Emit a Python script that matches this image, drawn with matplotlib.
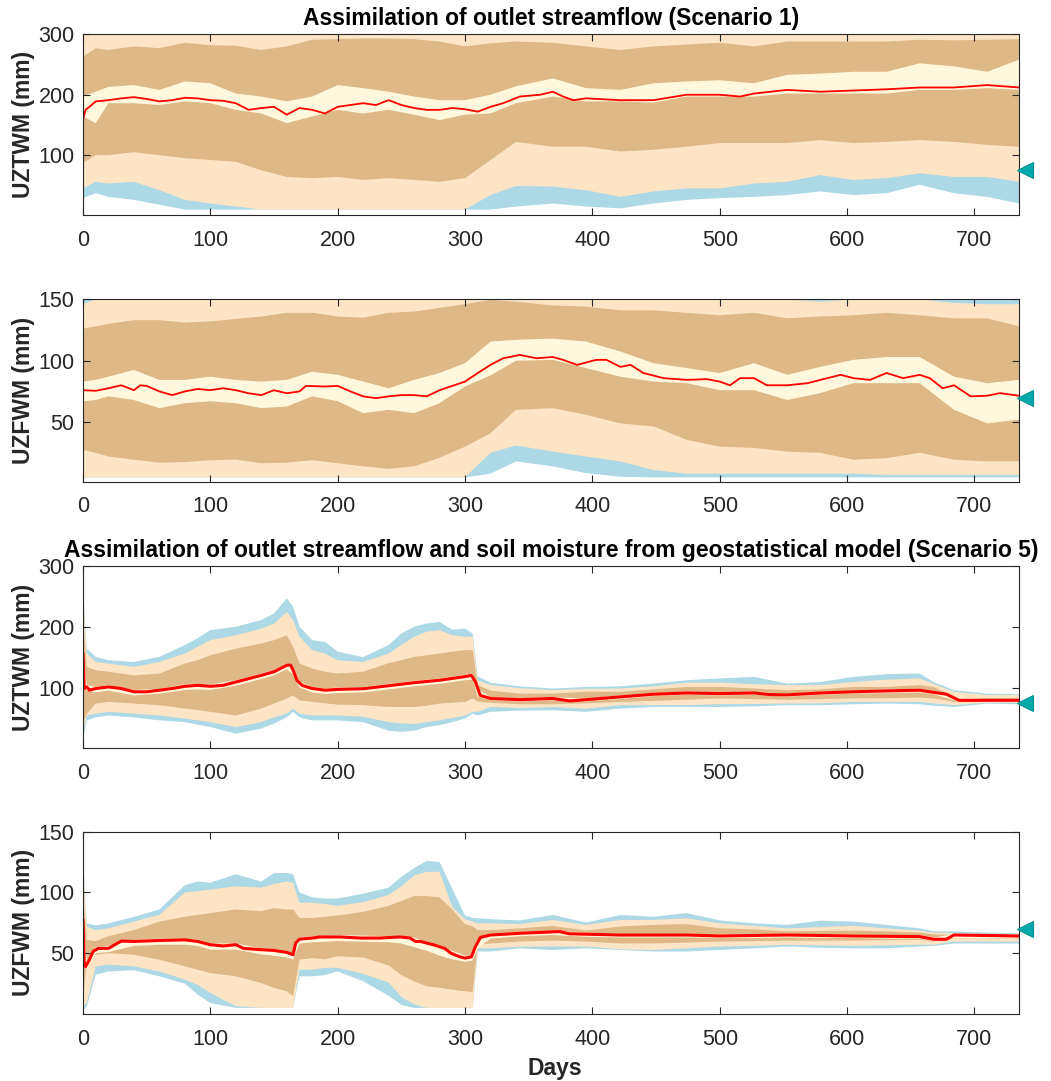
import matplotlib
matplotlib.use("Agg")
import matplotlib.pyplot as plt

plt.rcParams['font.family'] = ['Liberation Sans', 'DejaVu Sans']

# ---------------- Scenario 1 : day grid of the ensemble bands ----------------
DAYS_S1 = [0, 10, 20, 40, 60, 80, 100, 120, 140, 160, 180, 200, 220, 240, 260, 280, 300, 320, 340,
           369, 395, 422, 448, 474, 500, 527, 553, 579, 605, 631, 657, 684, 710, 735]

# Panel 1: UZTWM, Scenario 1
P1_BLUE_HI = [300, 300, 300, 300, 300, 300, 300, 300, 300, 300, 300, 300, 300, 300, 300, 300, 300,
              300, 300, 300, 300, 300, 300, 300, 300, 300, 300, 300, 300, 300, 300, 300, 300, 300]
P1_PEACH_HI = [300, 300, 300, 300, 300, 300, 300, 300, 300, 300, 300, 300, 300, 300, 300, 300, 300,
               300, 300, 300, 300, 300, 300, 300, 300, 300, 300, 300, 300, 300, 300, 300, 300, 300]
P1_TAN_HI = [263, 277, 274, 280, 277, 286, 282, 281, 274, 280, 291, 292, 293, 293, 292, 288, 280,
             285, 288, 286, 280, 274, 280, 283, 286, 280, 288, 288, 288, 288, 291, 290, 291, 292]
P1_YEL_HI = [197, 205, 213, 216, 208, 222, 219, 202, 197, 189, 197, 216, 211, 205, 197, 191, 191,
             200, 214, 227, 211, 208, 219, 222, 224, 219, 233, 235, 238, 238, 252, 247, 238, 258]
P1_YEL_LO = [164, 153, 186, 186, 183, 189, 186, 175, 169, 153, 164, 175, 169, 175, 167, 158, 167,
             169, 186, 197, 189, 189, 187, 197, 197, 197, 202, 202, 202, 202, 208, 208, 211, 208]
P1_TAN_LO = [87, 100, 100, 105, 100, 95, 92, 89, 75, 64, 62, 64, 59, 62, 59, 56, 62,
             92, 122, 114, 114, 106, 109, 114, 120, 120, 120, 125, 120, 122, 125, 122, 117, 114]
P1_PEACH_LO = [45, 56, 53, 56, 42, 26, 20, 15, 10, 10, 10, 10, 10, 10, 10, 10, 10,
               34, 49, 48, 42, 31, 40, 45, 45, 53, 56, 67, 59, 62, 70, 64, 64, 56]
P1_BLUE_LO = [29, 37, 31, 26, 18, 10, 10, 10, 10, 10, 10, 10, 10, 10, 10, 10, 10,
              10, 15, 20, 15, 12, 20, 26, 29, 31, 34, 40, 34, 37, 51, 37, 31, 20]
P1_MED_DAYS = [0, 2, 5, 10, 20, 30, 40, 50, 60, 70, 80, 90, 100, 110, 120, 130, 140, 150, 160, 170,
               180, 190, 200, 210, 220, 230, 240, 250, 260, 270, 280, 290, 300, 310, 320, 330,
               343, 359, 369, 377, 385, 395, 422, 448, 474, 500, 516, 527, 553, 579, 605, 631,
               657, 684, 710, 735]
P1_MED = [158, 175, 180, 189, 191, 194, 196, 193, 189, 191, 195, 194, 191, 190, 186, 175, 178, 180,
          167, 178, 175, 169, 180, 183, 186, 183, 191, 183, 178, 175, 175, 178, 176, 172, 180, 186,
          197, 200, 205, 197, 191, 194, 191, 191, 200, 200, 197, 202, 208, 205, 207, 209,
          212, 212, 216, 212]

# Panel 2: UZFWM, Scenario 1
P2_BLUE_HI = [150, 150, 150, 150, 150, 150, 150, 150, 150, 150, 150, 150, 150, 150, 150, 150, 150,
              150, 150, 150, 150, 150, 150, 150, 150, 150, 150, 150, 150, 150, 150, 150, 150, 150]
P2_PEACH_HI = [146, 150, 150, 150, 150, 150, 150, 150, 150, 150, 150, 150, 150, 150, 150, 150, 150,
               150, 150, 150, 150, 150, 150, 150, 150, 150, 150, 148, 150, 150, 150, 147, 146, 146]
P2_TAN_HI = [126, 128, 130, 133, 133, 131, 132, 134, 136, 139, 139, 136, 135, 139, 140, 143, 146,
             149.5, 148, 145, 144, 141, 141, 139, 137, 139, 134.5, 136, 137, 139, 137, 134.5, 134.5, 128]
P2_YEL_HI = [83, 84.4, 87, 92.5, 84.4, 84.4, 87, 84.4, 83, 84.4, 91, 88.5, 83, 77.6, 84.4, 90, 98,
             115.6, 117, 118, 115.6, 107.5, 98, 94, 90, 98, 88.5, 95, 100.7, 103, 103, 87, 81.7, 84.4]
P2_YEL_LO = [67, 68, 71, 68, 61.4, 65.4, 67, 65.4, 61.4, 62.7, 71, 67, 57.3, 60, 57.3, 65.4, 79,
             88, 100, 100.7, 94, 87, 83, 81.7, 76, 76, 68, 73.6, 81.7, 81.7, 81.7, 60, 49, 52]
P2_TAN_LO = [27.5, 25, 22, 19.4, 17, 17.5, 19, 19.5, 16.5, 17, 19, 16.5, 14, 12, 14, 21, 30,
             41, 60, 61.4, 56, 49, 46.5, 35.6, 30, 29, 26, 25, 19.4, 20.7, 25, 19.4, 18, 18]
P2_PEACH_LO = [5, 5, 5, 5, 5, 5, 5, 5, 5, 5, 5, 5, 5, 5, 5, 5, 5,
               25, 31, 26, 22, 18, 11, 8, 8, 8, 8, 8, 8, 7, 7, 7, 7, 7]
P2_BLUE_LO = [5, 5, 5, 5, 5, 5, 5, 5, 5, 5, 5, 5, 5, 5, 5, 5, 5,
              8, 18, 14, 8.5, 5.5, 5, 5, 5, 5, 5, 5, 5, 5, 5, 5, 5, 5]
P2_MED_DAYS = [0, 10, 20, 30, 40, 45, 50, 60, 70, 80, 90, 100, 110, 120, 130, 140, 150, 160, 170, 175,
               190, 200, 210, 220, 230, 240, 250, 260, 270, 280, 290, 300, 310, 320, 330, 343, 356,
               369, 377, 388, 403, 411, 422, 430, 440, 456, 474, 490, 500, 508, 516, 527, 537, 553,
               569, 579, 595, 605, 618, 631, 644, 657, 665, 675, 684, 697, 710, 720, 735]
P2_MED = [76, 75.5, 77.6, 80, 76, 80, 79.5, 75, 72, 75, 77, 76, 77.6, 76, 73.5, 72, 76, 73.5, 75, 79.5,
          79, 79.5, 75, 71, 69.5, 71, 72, 72, 71, 76, 79.5, 83, 90, 96.6, 102, 104.7, 102,
          103, 100.7, 96.6, 100.7, 100.7, 95, 96.6, 90, 85.8, 84.4, 85, 83, 80, 85.8, 85.8, 80, 80,
          81.7, 84.4, 88.5, 85.8, 84.4, 90, 85.8, 88.5, 85.8, 77.6, 80, 71, 71.5, 73.6, 71.5]

# ---------------- Scenario 5 : day grid of the ensemble bands ----------------
DAYS_S5 = [0, 3, 10, 20, 40, 60, 80, 90, 100, 120, 140, 150, 160, 165, 170, 180, 190, 200, 220, 240,
           250, 260, 270, 280, 290, 300, 306, 310, 320, 343, 369, 395, 422, 448, 474, 500, 527, 553,
           579, 605, 631, 657, 668, 684, 710, 735]

# Panel 3: UZTWM, Scenario 5
P3_BLUE_HI = [265, 164, 150.5, 145, 142, 150.5, 170, 181, 194.5, 200, 211, 222, 246.7, 233, 200, 178,
              175, 159, 150, 170, 189, 200, 205.5, 208, 195, 197, 189, 118, 108, 102, 98.4, 101, 102,
              106.6, 112, 115, 117.6, 106.6, 109, 117.6, 122, 123, 109, 95.6, 90, 89]
P3_PEACH_HI = [255, 156, 142, 139.5, 134, 142, 156, 167, 178, 186, 197, 205, 224.6, 211, 183.6, 161.5,
               156, 145, 142, 156, 170, 183.5, 192, 194.5, 186, 183.5, 183.5, 112, 104, 99, 95.6, 98,
               98.4, 102, 108, 108, 105.5, 104, 104, 109, 113, 115, 106, 93, 87.6, 87.6]
P3_TAN_HI = [210, 134, 128.6, 126, 120, 123, 139.5, 145, 153, 164, 172.5, 178, 186, 167, 139.5, 131.3,
             126, 123, 126, 140, 145, 150.5, 153, 156, 159, 161.5, 161.5, 104, 95, 90, 90, 93, 93,
             97, 101, 101, 98.4, 95.6, 97, 101, 101, 104, 101, 84.6, 82, 82]
P3_YEL_HI = [158, 104, 101, 104, 96, 98, 105, 106, 105, 112, 123, 129, 140, 132, 110, 101,
             98.5, 100, 101, 106, 108.5, 111, 113, 115, 118, 121, 123, 98, 84, 82, 84, 82, 87,
             91, 93, 92, 93, 90, 93, 95, 97, 98, 94, 85, 81, 81]
P3_YEL_LO = [100, 95, 92, 95, 87, 90, 96, 97, 96, 103, 114, 120, 130, 122, 100, 92,
             89.5, 91, 92, 97, 99.5, 102, 104, 106, 109, 112, 113, 85, 79, 77, 79, 77, 81,
             86, 88, 87, 88, 85, 88, 90, 91, 92, 89, 79, 77, 77]
P3_TAN_LO = [40, 57, 73.6, 76.4, 73.6, 71, 65.4, 63, 60, 54, 65.4, 73.6, 82, 87, 79, 76.4,
             74, 72, 71, 68, 68, 68, 70, 73.6, 75, 76.4, 82, 77, 75, 72.5, 72.5, 74, 76.4,
             78, 80, 82, 81, 80, 81, 82, 82.5, 83.5, 82, 76.4, 76.4, 76.4]
P3_PEACH_LO = [25, 54, 57, 60, 57, 54, 49, 46, 43, 35, 43, 51, 57, 65.4, 57, 54,
               54, 54, 52, 43, 41, 40, 43, 46, 50, 54, 60, 60, 68, 66, 68, 65, 71,
               71, 71, 72.5, 73, 73.6, 74, 76.4, 76.4, 76.4, 74, 71, 75, 75]
P3_BLUE_LO = [15, 46, 51, 54, 51, 46, 43, 39, 35, 24, 32.4, 40.7, 51, 60, 51, 46,
              46, 46, 43, 29, 27, 29, 35, 38, 43, 49, 57, 54, 60, 62, 62.6, 60, 65.4,
              68, 68, 68, 69, 71, 71, 72.5, 73.6, 72.5, 70, 68, 73.6, 72.5]
P3_MED_DAYS = [0, 1, 3, 5, 10, 20, 30, 40, 50, 60, 70, 80, 90, 100, 110, 120, 130, 140, 150, 155,
               160, 163, 165, 168, 172, 180, 190, 200, 220, 240, 260, 280, 300, 305, 308, 312, 320,
               343, 369, 382, 395, 422, 448, 474, 500, 527, 539, 553, 579, 605, 631, 657, 665, 678,
               688, 710, 735]
P3_MED = [156, 98.4, 101, 95.6, 98.4, 101, 98.4, 93, 93, 95.6, 98.4, 102, 103.6, 102, 103.6, 109,
          114.6, 120, 126, 131.3, 136.8, 136.8, 128.6, 112, 103.6, 98.4, 95.6, 97, 98, 103, 108, 112,
          118, 120, 110, 87, 82, 80, 82, 78, 80, 84.6, 89, 91, 90, 91, 88.5, 88, 91, 93, 94.5, 95.6,
          93, 89, 79, 79, 79]

# Panel 4: UZFWM, Scenario 5
P4_BLUE_HI = [130, 74.5, 73, 74.5, 80, 86, 106, 109, 108, 115, 109, 116, 116, 115, 100, 96,
              95, 95, 99, 104, 113, 120, 126, 125, 103, 81, 79, 78.8, 78, 77, 81.5, 75.2, 81.5,
              80, 83, 77, 74.6, 73.3, 76.8, 76, 73.3, 70.5, 68, 68, 67, 66.4]
P4_PEACH_HI = [125, 72, 69, 70.5, 76, 81.6, 100, 101, 102.5, 105, 104, 107, 109, 108, 91.5, 91.5,
               90.5, 89, 92, 98, 105, 114, 117, 117, 88, 78, 76, 74.6, 74.6, 74, 77.4, 73.3, 77.4,
               77.4, 78.8, 74.6, 72.5, 70.5, 71.5, 72.5, 70.5, 68.6, 67, 66.4, 66, 66]
P4_TAN_HI = [100, 61, 60, 64, 69, 76, 80, 81.5, 83, 86, 84.6, 87, 86, 86, 79, 79,
             80, 81, 84, 89, 93, 97, 97, 96, 86, 74, 72, 69, 69, 70.5, 72.5, 68.6, 72,
             73.3, 74, 70.5, 69.7, 68, 68.3, 68.6, 68, 67, 65.5, 65, 65, 65]
P4_YEL_HI = [76, 44, 55, 56, 61, 62, 62, 61, 58, 58, 54, 53.5, 52, 50, 63, 64,
             64.5, 65, 64.5, 64, 64.5, 63, 59, 56, 52, 48, 48, 60, 66, 67.5, 68.5, 67, 66,
             66, 66, 65.5, 65.5, 66, 65.5, 65.5, 65, 65, 63, 65.5, 65.5, 65.5]
P4_YEL_LO = [50, 38, 50, 51, 56, 57, 57, 56, 53, 53, 49, 48, 46.5, 45, 58, 59,
             59.5, 60, 59.5, 59, 58, 55, 52, 48, 45, 43, 44, 54, 62, 64, 65, 63.5, 63,
             63, 63, 62.5, 62.5, 63, 62.5, 62.5, 62, 62, 60, 62.5, 62.5, 62.5]
P4_TAN_LO = [12, 44, 48.8, 50, 48.8, 44.7, 39.2, 36.5, 33.7, 31, 25.5, 21.5, 18.7, 14.6, 44.7, 46,
             45, 47.5, 46.5, 40, 32, 26.8, 22.8, 21.5, 20, 18.7, 18, 57, 58, 59.6, 60.4, 59.6, 58,
             58, 58.8, 59.6, 60, 60.4, 60.4, 60.4, 60.7, 61, 59.6, 62.3, 62.3, 62.3]
P4_PEACH_LO = [6, 9, 39.2, 40.6, 39.2, 35, 28.3, 24, 17.3, 6.4, 5, 5, 5, 5, 36.5, 36.5,
               38, 38, 33, 26, 14, 8, 5, 5, 5, 5, 5, 54, 54, 55.5, 55.5, 55.5, 53.3,
               52.7, 54, 55.5, 56, 57, 56.5, 56, 56.5, 57, 57, 59.6, 59.6, 59.6]
P4_BLUE_LO = [3, 6.4, 32.3, 35, 36, 31, 25, 16, 9, 5, 5, 5, 5, 5, 31, 31,
              32, 35, 27, 15, 7.5, 5, 5, 5, 5, 5, 5, 51.4, 51.4, 54, 52.7, 54, 52.7,
              51.4, 51.4, 52.7, 54, 55.5, 54.5, 54, 54, 55.5, 56, 58, 58, 58]
P4_MED_DAYS = [0, 1, 2, 5, 8, 12, 20, 25, 30, 40, 60, 80, 90, 100, 110, 120, 126, 140, 150, 160,
               165, 167, 170, 180, 186, 202, 218, 233, 249, 257, 261, 265, 275, 284, 289, 296, 300,
               305, 308, 312, 320, 343, 374, 382, 422, 474, 500, 553, 605, 657, 668, 678, 684, 735]
P4_MED = [77, 42, 39, 44.7, 51.5, 54, 54, 57, 60, 59.7, 60.5, 61, 59.7, 57, 56, 57, 54, 52.9, 52.3, 50.7,
          48.8, 58.4, 61.6, 62.5, 63.4, 63.4, 62.5, 62.5, 63.4, 62.5, 59.7, 59.7, 57, 54, 50, 47, 46,
          47, 55, 63, 65, 66.4, 67.8, 66, 65, 65, 64.2, 65, 64.2, 63.7, 61.5, 61.5, 65, 64.2]

# "true" parameter values (cyan triangles at the right edge)
TRUE_DAY = 740
TRUE_VALUES = [75, 70, 75, 70]

TITLES = ['Assimilation of outlet streamflow (Scenario 1)', None,
          'Assimilation of outlet streamflow and soil moisture from geostatistical model (Scenario 5)', None]
YLABELS = ['UZTWM (mm)', 'UZFWM (mm)', 'UZTWM (mm)', 'UZFWM (mm)']
XTICKS = [0, 100, 200, 300, 400, 500, 600, 700]
YTICKS_TW = [100, 200, 300]
YTICKS_FW = [50, 100, 150]

C_BLUE = '#ADD8E6'
C_PEACH = '#FDE4C4'
C_TAN = '#DEB887'
C_YEL = '#FFF8DC'
C_RED = '#FF0000'
C_TRI = '#00AAAA'
C_AX = '#262626'

panels = [
    dict(days=DAYS_S1, bands=[(P1_BLUE_LO, P1_BLUE_HI), (P1_PEACH_LO, P1_PEACH_HI),
                              (P1_TAN_LO, P1_TAN_HI), (P1_YEL_LO, P1_YEL_HI)],
         md=P1_MED_DAYS, m=P1_MED, ylim=(1, 300), yt=YTICKS_TW, lw=1.3),
    dict(days=DAYS_S1, bands=[(P2_BLUE_LO, P2_BLUE_HI), (P2_PEACH_LO, P2_PEACH_HI),
                              (P2_TAN_LO, P2_TAN_HI), (P2_YEL_LO, P2_YEL_HI)],
         md=P2_MED_DAYS, m=P2_MED, ylim=(1.5, 150), yt=YTICKS_FW, lw=1.3),
    dict(days=DAYS_S5, bands=[(P3_BLUE_LO, P3_BLUE_HI), (P3_PEACH_LO, P3_PEACH_HI),
                              (P3_TAN_LO, P3_TAN_HI), (P3_YEL_LO, P3_YEL_HI)],
         md=P3_MED_DAYS, m=P3_MED, ylim=(0, 300), yt=YTICKS_TW, lw=2.2),
    dict(days=DAYS_S5, bands=[(P4_BLUE_LO, P4_BLUE_HI), (P4_PEACH_LO, P4_PEACH_HI),
                              (P4_TAN_LO, P4_TAN_HI), (P4_YEL_LO, P4_YEL_HI)],
         md=P4_MED_DAYS, m=P4_MED, ylim=(0, 150), yt=YTICKS_FW, lw=2.2),
]

W, H = 1051, 1081
fig = plt.figure(figsize=(W / 100, H / 100), dpi=100)
# axes boxes in pixels: (top, bottom)
boxes = [(34.3, 215.0), (299.3, 481.7), (566.0, 748.3), (831.7, 1014.0)]
left_px, right_px = 83, 1019

axes = []
for i, (p, (top, bot)) in enumerate(zip(panels, boxes)):
    ax = fig.add_axes([left_px / W, 1 - bot / H, (right_px - left_px) / W, (bot - top) / H])
    axes.append(ax)
    for (lo, hi), col in zip(p['bands'], [C_BLUE, C_PEACH, C_TAN, C_YEL]):
        ax.fill_between(p['days'], lo, hi, facecolor=col, edgecolor='none', linewidth=0, zorder=1)
    ax.plot(p['md'], p['m'], color=C_RED, lw=p['lw'], zorder=3)
    ax.plot([TRUE_DAY], [TRUE_VALUES[i]], marker='<', ms=11, mfc=C_TRI, mec='#009090',
            mew=0.8, clip_on=False, zorder=6, ls='none')
    ax.set_xlim(0, 735)
    ax.set_ylim(*p['ylim'])
    ax.set_xticks(XTICKS)
    ax.set_yticks(p['yt'])
    ax.tick_params(direction='in', top=True, right=True, length=5, width=0.8,
                   labelsize=15.5, colors=C_AX)
    ax.tick_params(axis='x', pad=10.5)
    ax.tick_params(axis='y', pad=6)
    for s in ax.spines.values():
        s.set_color(C_AX)
        s.set_linewidth(0.8)
        s.set_zorder(5)
    ax.set_ylabel(YLABELS[i], fontsize=16.5, fontweight='bold', color=C_AX)
    ax.yaxis.set_label_coords(-0.051, 0.5)
    if TITLES[i]:
        ax.set_title(TITLES[i], fontsize=16.5, fontweight='bold', color='black', pad=6.5)

axes[3].set_xlabel('Days', fontsize=16.5, fontweight='bold', color=C_AX)
axes[3].xaxis.set_label_coords(0.504, -0.235)

fig.savefig('out.png', dpi=100)
